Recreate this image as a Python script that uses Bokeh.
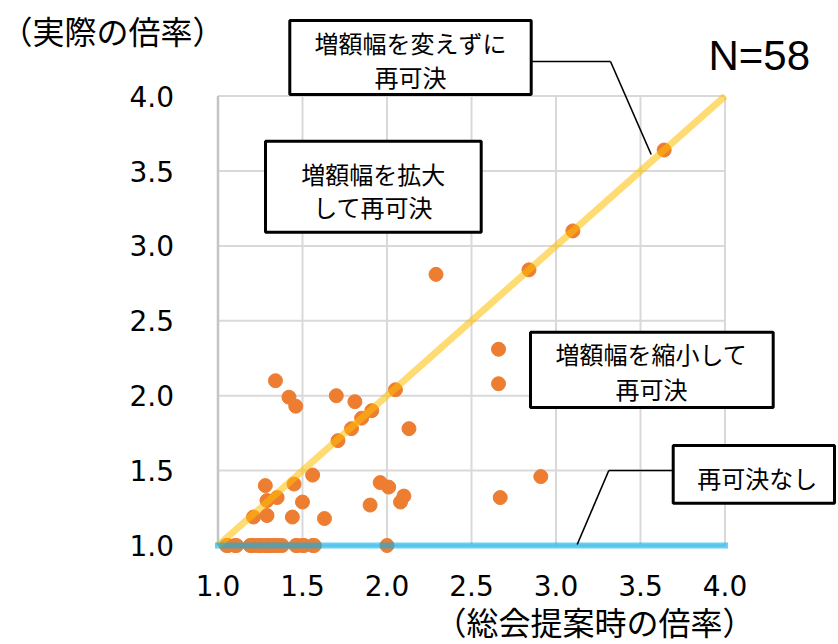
from bokeh.plotting import figure
from bokeh.models import Label, BoxAnnotation, Arrow, FixedTicker, PrintfTickFormatter, Range1d
from bokeh.embed import file_html
from bokeh.resources import INLINE

# ---------------- data ----------------
# 総会提案時の倍率 (x) と 実際の倍率 (y), N=58
proposal_ratio = [
    1.34, 1.42, 1.46, 1.70, 1.81, 2.05, 1.91, 1.85, 1.79, 1.71, 2.13,
    1.56, 1.45, 1.28, 1.35, 1.29, 1.50, 1.29, 1.21, 1.44, 1.63,
    1.96, 2.01, 1.90, 2.10, 2.08,
    2.29, 2.84, 3.10, 3.64, 2.66, 2.66, 2.91, 2.67,
    1.05, 1.06, 1.10, 1.11, 1.19, 1.20, 1.22, 1.24, 1.25, 1.27, 1.29, 1.30,
    1.31, 1.33, 1.34, 1.36, 1.38, 1.46, 1.47, 1.50, 1.51, 1.56, 1.57, 2.00,
]
actual_ratio = [
    2.10, 1.99, 1.93, 2.00, 1.96, 2.04, 1.90, 1.85, 1.78, 1.70, 1.78,
    1.47, 1.41, 1.40, 1.32, 1.30, 1.29, 1.20, 1.19, 1.19, 1.18,
    1.42, 1.39, 1.27, 1.33, 1.29,
    2.81, 2.84, 3.10, 3.64, 2.31, 2.08, 1.46, 1.32,
    1.00, 1.00, 1.00, 1.00, 1.00, 1.00, 1.00, 1.00, 1.00, 1.00, 1.00, 1.00,
    1.00, 1.00, 1.00, 1.00, 1.00, 1.00, 1.00, 1.00, 1.00, 1.00, 1.00, 1.00,
]
tick_values = [1.0, 1.5, 2.0, 2.5, 3.0, 3.5, 4.0]
same_line_x = [1.0, 4.0]      # 増額幅を変えずに再可決 (y = x)
same_line_y = [1.0, 4.0]
none_line_x = [1.0, 4.0]      # 再可決なし (y = 1)
none_line_y = [1.0, 1.0]

y_title = "（実際の倍率）"
x_title = "（総会提案時の倍率）"
n_text = "N=58"
box_same = ["増額幅を変えずに", "再可決"]
box_up = ["増額幅を拡大", "して再可決"]
box_down = ["増額幅を縮小して", "再可決"]
box_none = ["再可決なし"]

# ---------------- layout (canvas pixels) ----------------
W, H = 838, 644
X1PX, SX = 217.5, 169.0     # where x = 1.0 sits, pixels per unit
Y1PX, SY = 545.0, 149.8     # where y = 1.0 sits, pixels per unit


def dx(px):
    return 1 + (px - X1PX) / SX


def dy(py):
    return 1 + (Y1PX - py) / SY


p = figure(width=W, height=H,
           x_range=Range1d(dx(0), dx(W)), y_range=Range1d(dy(H), dy(0)),
           output_backend="svg", toolbar_location=None,
           min_border_left=0, min_border_right=0,
           min_border_top=0, min_border_bottom=0)
p.title.visible = False
p.outline_line_color = None
p.background_fill_color = "white"
p.border_fill_color = "white"
p.xgrid.visible = False
p.ygrid.visible = False

lo, hi = tick_values[0], tick_values[-1]
for ax in (p.xaxis, p.yaxis):
    ax.ticker = FixedTicker(ticks=tick_values)
    ax.formatter = PrintfTickFormatter(format="%.1f")
    ax.fixed_location = lo
    ax.axis_line_color = None
    ax.major_tick_line_color = None
    ax.minor_tick_line_color = None
    ax.major_tick_out = 0
    ax.major_tick_in = 0
    ax.major_label_text_font = "DejaVu Sans"
    ax.major_label_text_font_size = "28px"
    ax.major_label_text_color = "black"
p.xaxis.major_label_standoff = 29
p.yaxis.major_label_standoff = 44

# grid lines bounded to the 1.0-4.0 square
n = len(tick_values)
p.segment(x0=tick_values, y0=[lo] * n, x1=tick_values, y1=[hi] * n,
          line_color="#D9D9D9", line_width=2)
p.segment(x0=[lo] * n, y0=tick_values, x1=[hi] * n, y1=tick_values,
          line_color="#D9D9D9", line_width=2)
p.segment(x0=[lo], y0=[lo], x1=[lo], y1=[hi], line_color="#C4C4C4", line_width=2.5)

# points
p.scatter(proposal_ratio, actual_ratio, size=14, marker="circle",
          fill_color="#ED7D31", line_color="#ED7D31", line_width=1)

# reference lines (drawn over the points, semi transparent)
p.line(same_line_x, same_line_y, line_color="#FFC000", line_alpha=0.55, line_width=7)
p.line(none_line_x, none_line_y, line_color="#00B0F0", line_alpha=0.6, line_width=6,
       line_cap="square")

JP = "Noto Sans CJK JP"


def add_box(l, r, t, b):
    p.add_layout(BoxAnnotation(left=dx(l), right=dx(r), top=dy(t), bottom=dy(b),
                               fill_color="white", fill_alpha=1.0,
                               line_color="black", line_width=3, line_alpha=1.0))


def add_text(cx, cy, text, size="24px", font=JP, align="center"):
    p.add_layout(Label(x=dx(cx), y=dy(cy), text=text, text_align=align,
                       text_baseline="middle", text_font=font,
                       text_font_size=size, text_color="black"))


def add_seg(x0, y0, x1, y1):
    p.add_layout(Arrow(x_start=dx(x0), y_start=dy(y0), x_end=dx(x1), y_end=dy(y1),
                       end=None, line_color="black", line_width=1.6))


# callout lines
add_seg(530.7, 61, 610, 61)
add_seg(610, 61, 650.7, 154)
add_seg(672.3, 470, 608.3, 470)
add_seg(608.3, 470, 576.7, 544)

# boxes
add_box(289.3, 530.7, 20, 94)
add_text(410, 41.7, box_same[0])
add_text(410, 76, box_same[1])

add_box(265, 480.7, 140.7, 231.7)
add_text(372.8, 173, box_up[0])
add_text(372.8, 206, box_up[1])

add_box(530, 772.7, 331.7, 407)
add_text(651, 353, box_down[0])
add_text(651, 387.5, box_down[1])

add_box(672.7, 834, 445, 502.7)
add_text(756.7, 476.5, box_none[0])

# titles
add_text(0, 29, y_title, size="32px", align="left")
add_text(594, 620, x_title, size="32px")
add_text(708, 55, n_text, size="42px", font="Liberation Sans", align="left")

open("out.html", "w").write(file_html(p, INLINE))
